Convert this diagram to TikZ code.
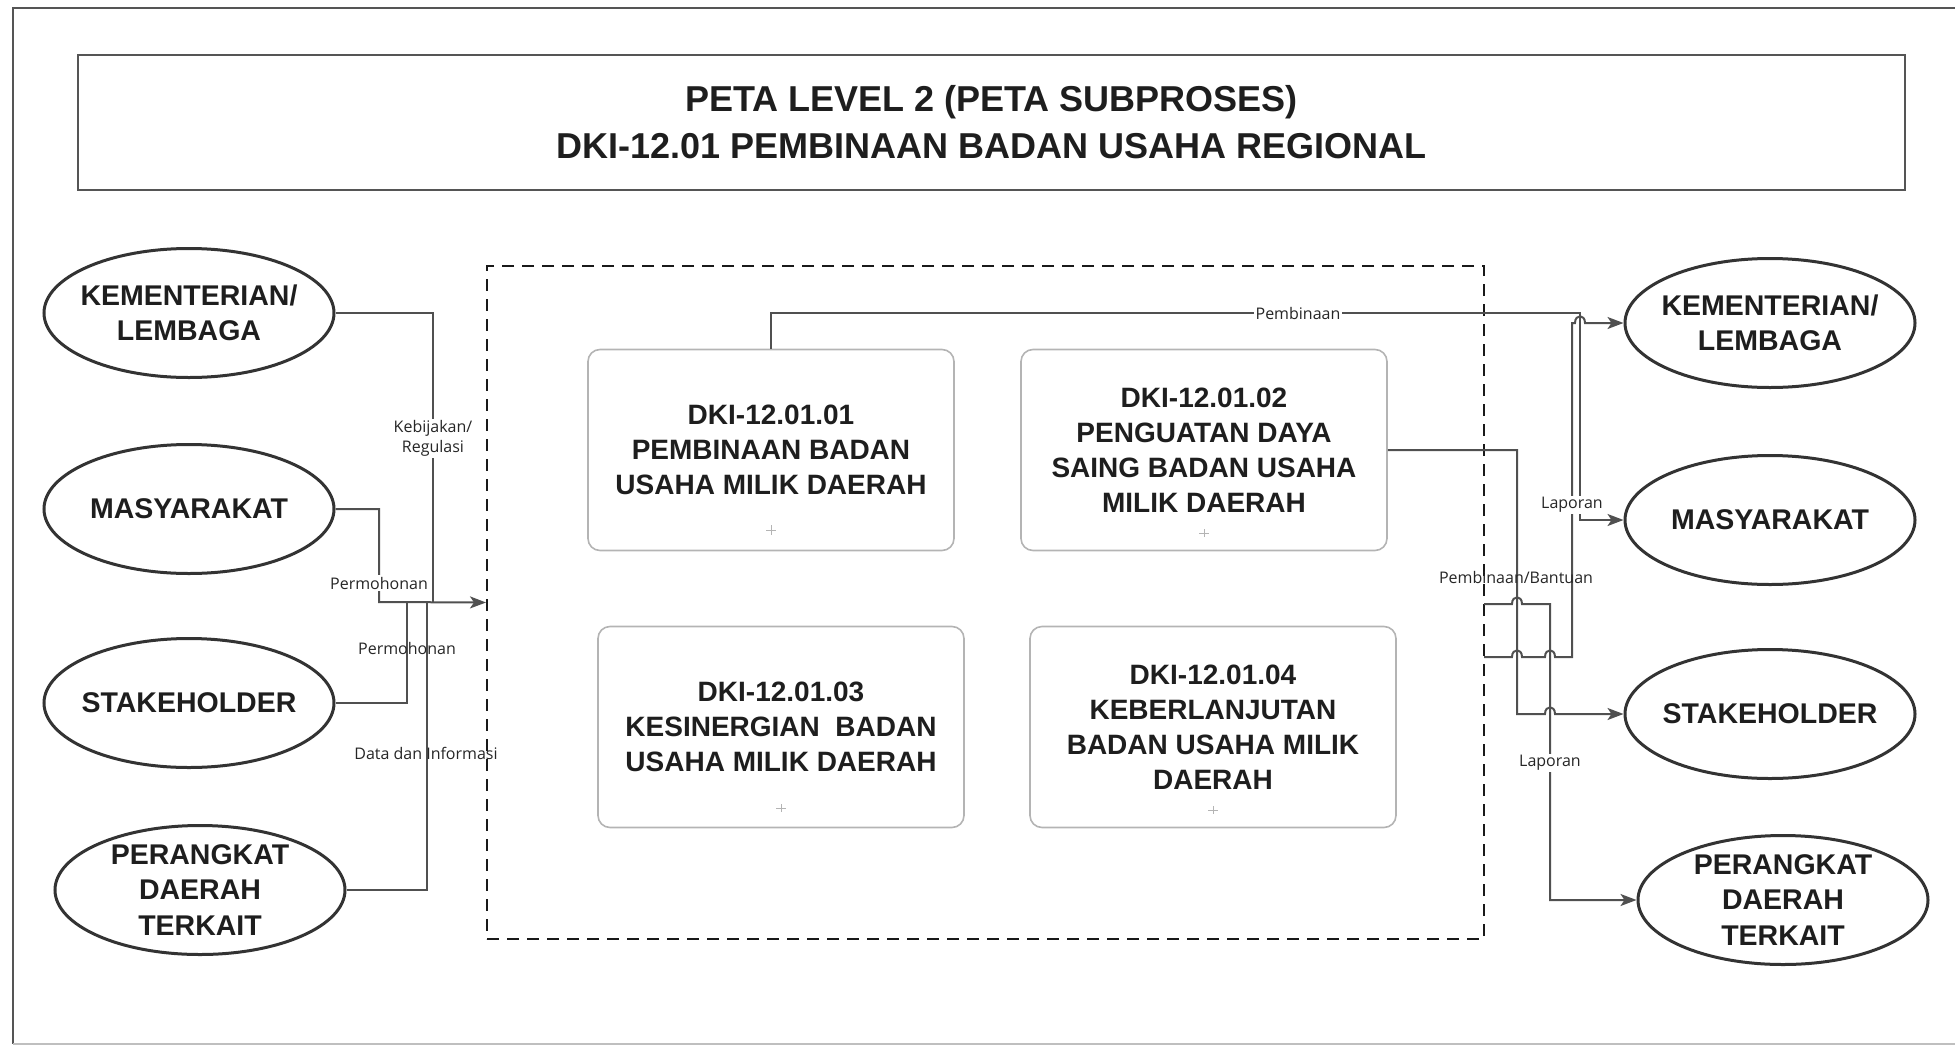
\documentclass[tikz,border=0pt]{standalone}
\usepackage{fontspec}
\setmainfont{Liberation Sans}
\newfontfamily\lblfont{Open Sans}
\usetikzlibrary{shapes.geometric,arrows.meta}
\definecolor{lc}{HTML}{505050}
\definecolor{ec}{HTML}{333333}
\definecolor{bc}{HTML}{B4B4B4}
\definecolor{tc}{HTML}{1E1E1E}
\definecolor{fc}{HTML}{555555}
\begin{document}
\begin{tikzpicture}[x=1pt,y=-1pt,
  actor/.style={ellipse, draw=ec, line width=3pt, inner sep=0pt, minimum width=290pt, minimum height=129pt},
  acttext/.style={font=\bfseries\fontsize{28.5}{35.5}\selectfont, text=tc, align=center},
  proc/.style={rectangle, rounded corners=12pt, draw=bc, line width=1.6pt, minimum width=366pt, minimum height=201pt, font=\bfseries\fontsize{28}{35}\selectfont, align=center, text=tc},
  conn/.style={draw=lc, line width=2pt},
  arr/.style={conn, -{Stealth[length=16pt,width=12pt,inset=4pt]}},
  lbl/.style={font=\lblfont\fontsize{16}{20}\selectfont, text=black!85, inner sep=1.5pt, align=center},
  pmark/.style={draw=bc, line width=0.8pt}
]
\useasboundingbox (0,0) rectangle (1955,1047);
% outer frame
\draw[fc, line width=2.5pt] (1960,8) -- (13,8) -- (13,1044);
\draw[black!25, line width=2pt] (13,1044) -- (1960,1044);
% title
\node[draw=fc, line width=2pt, minimum width=1827pt, minimum height=135pt, inner sep=0pt,
      font=\bfseries\fontsize{36}{47}\selectfont, text=tc, align=center]
  (title) at (991.5,122.5) {PETA LEVEL 2 (PETA SUBPROSES)\\DKI-12.01 PEMBINAAN BADAN USAHA REGIONAL};
% dashed container
\node[draw=black!90, line width=2pt, dash pattern=on 12pt off 8pt, minimum width=997pt, minimum height=673pt, inner sep=0pt]
  (core) at (985.5,602.5) {};
\coordinate (o1) at (1484,604);
\coordinate (o2) at (1484,657);
% process boxes
\node[proc] (b1) at (771,450) {DKI-12.01.01\\PEMBINAAN BADAN\\USAHA MILIK DAERAH};
\node[proc] (b2) at (1204,450) {DKI-12.01.02\\PENGUATAN DAYA\\SAING BADAN USAHA\\MILIK DAERAH};
\node[proc] (b3) at (781,727) {DKI-12.01.03\\KESINERGIAN\ \ BADAN\\USAHA MILIK DAERAH};
\node[proc] (b4) at (1213,727) {DKI-12.01.04\\KEBERLANJUTAN\\BADAN USAHA MILIK\\DAERAH};
% small connection marks
\draw[pmark] (766,530) -- (776,530) (771,525) -- (771,535);
\draw[pmark] (1199,533) -- (1209,533) (1204,529) -- (1204,537);
\draw[pmark] (776,808) -- (786,808) (781,804) -- (781,812);
\draw[pmark] (1208,810) -- (1218,810) (1213,806) -- (1213,814);
% left actors
\node[actor, label={[acttext]center:KEMENTERIAN/\\LEMBAGA}] (lK) at (189,313) {};
\node[actor, label={[acttext]center:MASYARAKAT}] (lM) at (189,509) {};
\node[actor, label={[acttext]center:STAKEHOLDER}] (lS) at (189,703) {};
\node[actor, label={[acttext]center:PERANGKAT\\DAERAH\\TERKAIT}] (lP) at (200,890) {};
% right actors
\node[actor, label={[acttext]center:KEMENTERIAN/\\LEMBAGA}] (rK) at (1770,323) {};
\node[actor, label={[acttext]center:MASYARAKAT}] (rM) at (1770,520) {};
\node[actor, label={[acttext]center:STAKEHOLDER}] (rS) at (1770,714) {};
\node[actor, label={[acttext]center:PERANGKAT\\DAERAH\\TERKAIT}] (rP) at (1783,900) {};
% left connectors
\draw[conn] (lK.east) -| (433,602);
\draw[conn] (lS.east) -| (407,602);
\draw[conn] (lP.east) -| (427,602);
\draw[arr] (lM.east) -| (379,602) -- (core.west);
% right connectors
\draw[arr] (o2) -- (1512,657) .. controls (1512,648) and (1522,648) .. (1522,657)
  -- (1545,657) .. controls (1545,648) and (1555,648) .. (1555,657)
  -- (1572,657) -- (1572,323) -- (1575,323) .. controls (1575,314) and (1585,314) .. (1585,323) -- (rK.west);
\draw[arr] (o1) -- (1512,604) .. controls (1512,595) and (1522,595) .. (1522,604)
  -- (1550,604) |- (rP.west);
\draw[arr] (b2.east) -- (1517,450) -- (1517,714) -- (1545,714) .. controls (1545,705) and (1555,705) .. (1555,714) -- (rS.west);
\draw[arr] (b1.north) |- (1580,313) |- (rM.west);
% labels
\node[lbl, fill=white] (tPemb) at (1298,313) {Pembinaan};
\node[lbl, fill=white] (tKeb) at (433,438) {Kebijakan/\\Regulasi};
\node[lbl, fill=white] (tPer1) at (379,583) {Permohonan};
\node[lbl] (tPer2) at (407,648) {Permohonan};
\node[lbl] (tData) at (426,753) {Data dan Informasi};
\node[lbl] (tBant) at (1516,577) {Pembinaan/Bantuan};
\node[lbl, fill=white] (tLap1) at (1572,505) {Laporan};
\node[lbl, fill=white] (tLap2) at (1550,763) {Laporan};
\end{tikzpicture}
\end{document}
